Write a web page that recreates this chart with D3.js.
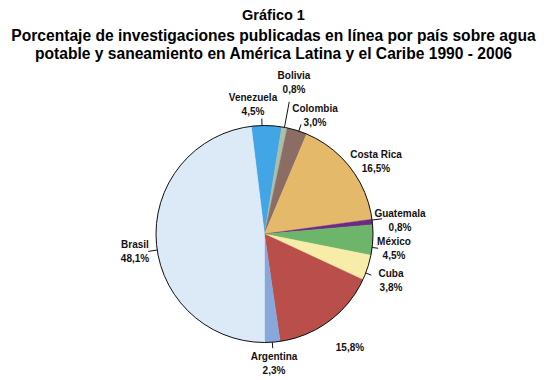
<!DOCTYPE html>
<html>
<head>
<meta charset="utf-8">
<script src="https://cdn.jsdelivr.net/npm/d3@7"></script>
<style>
  body { margin: 0; background: #fff; }
  svg { display: block; font-family: "Liberation Sans", Arial, sans-serif; }
</style>
</head>
<body>
<div id="chart"></div>
<script>
// data, clockwise from the top (the red slice has no name in the original)
const countries = ['Venezuela', 'Bolivia', 'Colombia', 'Costa Rica', 'Guatemala', 'México', 'Cuba', '', 'Argentina', 'Brasil'];
const shares = [4.5, 0.8, 3.0, 16.5, 0.8, 4.5, 3.8, 15.8, 2.3, 48.1];
const titleLines = ['Gráfico 1',
  'Porcentaje de investigaciones publicadas en línea por país sobre agua',
  'potable y saneamiento en América Latina y el Caribe 1990 - 2006'];

const colors = ['#41a5e6', '#a9c0a6', '#8c6d66', '#e5b96a', '#6b2b84', '#6db56a', '#f7eca8', '#b94e4b', '#88a8dc', '#dce9f6'];

// label placement relative to the pie centre (first line centre x, baseline)
const labelOffset = {
  'Venezuela': [-11.5, -133.5], 'Bolivia': [29.5, -155.5], 'Colombia': [50.5, -122.5],
  'Costa Rica': [111.5, -76.5], 'Guatemala': [135.5, -17.5], 'México': [129.5, 10.5],
  'Cuba': [126.5, 42.5], '': [85.5, 116.5], 'Argentina': [9.5, 125.5], 'Brasil': [-129.5, 13.5]
};
// leader lines: length and angle shift (degrees) from slice middle
const leader = {
  'Venezuela': [7, -2.4], 'Bolivia': [26, 0], 'Colombia': [7, 1], 'Guatemala': [10, -1],
  'México': [6, 4], 'Cuba': [6, 3], 'Argentina': [6, 0], 'Brasil': [9, -5]
};

const W = 547, H = 380;
const cx = 264.5, cy = 234, R = 108.5;

const svg = d3.select('#chart').append('svg')
  .attr('width', W).attr('height', H);

svg.append('g').selectAll('text')
  .data(titleLines)
  .join('text')
  .attr('x', 273.5)
  .attr('y', (d, i) => [20, 41, 59][i])
  .attr('text-anchor', 'middle')
  .style('font-size', (d, i) => i ? '15.6px' : '14.5px')
  .style('font-weight', 'bold')
  .text(d => d);

const data = countries.map((c, i) => ({name: c, value: shares[i], color: colors[i]}));
const total = d3.sum(shares);
// Brasil starts at six o'clock
const before = d3.sum(shares.slice(0, 9));
const start = Math.PI - before / total * 2 * Math.PI;

const pie = d3.pie().sort(null).value(d => d.value)
  .startAngle(start).endAngle(start + 2 * Math.PI);
const arcs = pie(data);
const arc = d3.arc().innerRadius(0).outerRadius(R);

const plot = svg.append('g').attr('transform', `translate(${cx},${cy})`);

plot.selectAll('path.slice')
  .data(arcs)
  .join('path')
  .attr('class', 'slice')
  .attr('d', arc)
  .style('fill', d => d.data.color)
  .style('stroke', d => d.data.color)
  .style('stroke-width', 0.4);

plot.append('circle')
  .attr('r', R)
  .style('fill', 'none')
  .style('stroke', '#111')
  .style('stroke-width', 1);

const pt = (a, r) => [r * Math.sin(a), -r * Math.cos(a)];

plot.selectAll('line.leader')
  .data(arcs.filter(d => leader[d.data.name]))
  .join('line')
  .attr('class', 'leader')
  .each(function(d) {
    const [len, da] = leader[d.data.name];
    const a = (d.startAngle + d.endAngle) / 2 + da * Math.PI / 180;
    const p0 = pt(a, R), p1 = pt(a, R + len);
    d3.select(this).attr('x1', p0[0]).attr('y1', p0[1]).attr('x2', p1[0]).attr('y2', p1[1]);
  })
  .style('stroke', '#111')
  .style('stroke-width', 1);

const fmt = v => d3.format('.1f')(v).replace('.', ',') + '%';

const labels = plot.selectAll('text.lbl')
  .data(arcs)
  .join('text')
  .attr('class', 'lbl')
  .attr('text-anchor', 'middle')
  .style('font-size', '10px')
  .style('font-weight', 'bold')
  .style('fill', '#111');

labels.each(function(d) {
  const [dx, dy] = labelOffset[d.data.name];
  const t = d3.select(this);
  if (d.data.name) {
    t.append('tspan').attr('x', dx).attr('y', dy).text(d.data.name);
    t.append('tspan').attr('x', dx).attr('y', dy + 14.5).text(fmt(d.data.value));
  } else {
    t.append('tspan').attr('x', dx).attr('y', dy).text(fmt(d.data.value));
  }
});
</script>
</body>
</html>
